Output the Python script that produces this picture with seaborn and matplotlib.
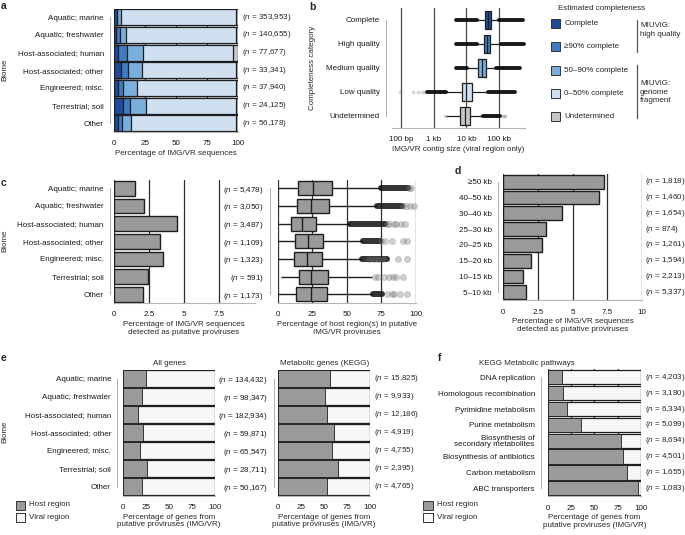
import numpy as np
import pandas as pd
import matplotlib.pyplot as plt
import seaborn as sns
from matplotlib.patches import Rectangle
from matplotlib.ticker import NullLocator

sns.set_theme(style="white")
plt.rcParams['font.family'] = ['Liberation Sans', 'DejaVu Sans']
plt.rcParams['mathtext.fontset'] = 'custom'
plt.rcParams['mathtext.it'] = 'Liberation Sans:italic'
plt.rcParams['mathtext.rm'] = 'Liberation Sans'

FS = 5.8
EDGE = "#1e1e1e"
GRID = "#2e2e2e"
SPINE = "#b5b5b5"
GRAY = "#9a9a9a"
WHITE = "#f7f7f7"
comp_colors = ["#1f4a9c", "#3b7cc3", "#7bafdb", "#cfe1f1", "#c6c6c6"]

# ---- data ----
biomes = ["Aquatic; marine", "Aquatic; freshwater", "Host-associated; human",
          "Host-associated; other", "Engineered; misc.", "Terrestrial; soil", "Other"]

# a: completeness per biome (% of sequences)
a_complete = [2.1, 1.6, 3.2, 5.9, 3.5, 7.5, 3.2]
a_hq90 = [0.5, 3.2, 7.6, 5.1, 4.0, 5.4, 3.5]
a_mq = [2.8, 4.6, 12.9, 11.8, 11.3, 12.9, 7.3]
a_undet = [1.6, 1.6, 4.3, 1.6, 1.6, 1.6, 1.6]
a_n = ["353,953", "140,655", "77,677", "33,341", "37,940", "24,125", "56,178"]

# b: contig size summary (bp)
b_cats = ["Complete", "High quality", "Medium quality", "Low quality", "Undetermined"]
b_whisk_lo = [20400, 20400, 10600, 2340, 2340]
b_q1 = [36300, 34700, 22400, 7240, 6300]
b_med = [45700, 42700, 29500, 9800, 9100]
b_q3 = [57500, 52500, 39800, 14450, 12900]
b_whisk_hi = [100000, 112000, 79400, 44700, 33100]
b_band_lo_start = [4800, 4800, 4800, 617, np.nan]
b_band_hi_end = [550000, 575000, 437000, 309000, 107000]
b_faint_low = [93, 240, 339, 427, 537]
b_faint_undet = [2250, 125000, 140000, 151000]
b_labels = ["Complete", "≥90% complete", "50–90% complete", "0–50% complete", "Undetermined"]

# c left: % proviruses per biome
c_pct = [1.53, 2.15, 4.47, 3.31, 3.48, 2.44, 2.08]
c_n = ["5,478", "3,050", "3,487", "1,109", "1,323", "591", "1,173"]

# c right: % host region in proviruses
cr_lo = [0.5, 0.5, 0.5, 0.5, 0.5, 2.2, 0.5]
cr_q1 = [15.0, 13.8, 9.7, 12.8, 12.0, 15.5, 13.3]
cr_med = [25.4, 24.2, 17.9, 22.2, 21.0, 24.2, 23.9]
cr_q3 = [39.6, 37.4, 27.5, 32.6, 32.0, 36.7, 36.0]
cr_hi = [74.9, 71.7, 52.4, 61.6, 61.0, 68.0, 69.3]
cr_band_end = [94.7, 90.0, 78.0, 74.0, 79.0, np.nan, 75.8]
cr_circles = [[95.5, 96.5],
              [91, 93, 96, 99],
              [79, 81, 84, 86, 89, 92],
              [75, 77.8, 82.5, 91, 93.5],
              [66, 70, 73, 76, 87, 93.5],
              [70.5, 73, 77, 81, 83.8, 85.7, 90.5],
              [79, 82.6, 84.3, 88.6, 93.5]]

# d: % proviruses by size
d_sizes = ["≥50 kb", "40–50 kb", "30–40 kb", "25–30 kb", "20–25 kb", "15–20 kb", "10–15 kb", "5–10 kb"]
d_pct = [7.28, 6.91, 4.26, 3.06, 2.82, 2.03, 1.45, 1.66]
d_n = ["1,818", "1,460", "1,654", "874", "1,261", "1,594", "2,213", "5,337"]

# e: host share of genes
e_host_all = [24.7, 20.7, 16.0, 21.0, 18.2, 25.4, 20.7]
e_n_all = ["134,432", "98,347", "182,934", "59,871", "65,547", "28,711", "50,167"]
e_host_kegg = [56.4, 51.3, 53.1, 61.1, 58.5, 65.1, 52.7]
e_n_kegg = ["15,825", "9,933", "12,186", "4,919", "4,755", "2,395", "4,765"]

# f: KEGG pathways
f_paths = ["DNA replication", "Homologous recombination", "Pyrimidine metabolism",
           "Purine metabolism", "Biosynthesis of\nsecondary metabolites",
           "Biosynthesis of antibiotics", "Carbon metabolism", "ABC transporters"]
f_host = [15.7, 16.8, 21.0, 35.4, 78.6, 80.4, 84.6, 96.4]
f_n = ["4,203", "3,180", "6,334", "5,099", "8,694", "4,501", "1,655", "1,083"]

W, H = 685, 535
fig = plt.figure(figsize=(W / 100, H / 100), dpi=100)


def add_ax(x0, x1, y0, y1):
    return fig.add_axes([x0 / W, 1 - y1 / H, (x1 - x0) / W, (y1 - y0) / H])


def style(ax, n, offset_px, xticks, xticklabels=None):
    for s in ["top", "right"]:
        ax.spines[s].set_visible(False)
    ax.spines["left"].set_position(("outward", offset_px * 0.72))
    ax.spines["left"].set_bounds(0, n - 1)
    for s in ["left", "bottom"]:
        ax.spines[s].set_color(SPINE)
        ax.spines[s].set_linewidth(0.8)
    ax.set_ylim(n - 0.5, -0.5)
    ax.set_xticks(xticks)
    if xticklabels is not None:
        ax.set_xticklabels(xticklabels)
    ax.xaxis.set_minor_locator(NullLocator())
    ax.tick_params(axis="x", length=0, pad=6.0, labelsize=FS, labelcolor="#1a1a1a")
    ax.tick_params(axis="y", length=3, width=0.6, color=SPINE, pad=1.5,
                   labelsize=FS, labelcolor="#1a1a1a")
    ax.grid(axis="x", color=GRID, lw=0.9, zorder=0)
    ax.grid(axis="y", visible=False)
    ax.set_axisbelow(True)
    ax.set_ylabel("")
    ax.set_xlabel("")


def nlab(n):
    return f"($n$ = {n})"


# ---- a ----
ax_a = add_ax(114, 238, 8.5, 132.1)
a_df = pd.DataFrame({"biome": biomes, "c1": a_complete, "c2": a_hq90, "c3": a_mq})
a_df["c4"] = 100 - a_df[["c1", "c2", "c3"]].sum(axis=1) - np.array(a_undet)
a_df["c5"] = a_undet
cum = a_df[["c1", "c2", "c3", "c4", "c5"]].cumsum(axis=1)
for col, color in reversed(list(zip(["c1", "c2", "c3", "c4", "c5"], comp_colors))):
    sns.barplot(x=cum[col], y=a_df["biome"], color=color, saturation=1, width=0.9,
                edgecolor=EDGE, linewidth=0.9, errorbar=None, orient="h", ax=ax_a)
style(ax_a, 7, 4, [0, 25, 50, 75, 100])
ax_a.set_xlim(0, 100)
ax_a.set_xlabel("Percentage of IMG/VR sequences", fontsize=FS, labelpad=2)
for i, n in enumerate(a_n):
    ax_a.text(103, i, nlab(n), fontsize=FS, va="center", ha="left", clip_on=False)

# ---- b ----
ax_b = add_ax(392, 525.3, 8, 128)
b_df = pd.DataFrame({
    "cat": np.repeat(b_cats, 5),
    "size": np.column_stack([b_whisk_lo, b_q1, b_med, b_q3, b_whisk_hi]).ravel(),
})
sns.boxplot(data=b_df, x="size", y="cat", hue="cat", order=b_cats, hue_order=b_cats,
            palette=comp_colors, saturation=1, whis=(0, 100), width=0.75, showcaps=False,
            showfliers=False, linecolor=EDGE, linewidth=0.9, log_scale=True, legend=False, ax=ax_b)
for i in range(len(b_cats)):
    if not np.isnan(b_band_lo_start[i]):
        ax_b.hlines(i, b_band_lo_start[i], b_whisk_lo[i], color="black", lw=2.8, alpha=0.9,
                    capstyle="round", zorder=3)
    ax_b.hlines(i, b_whisk_hi[i], b_band_hi_end[i], color="black", lw=2.8, alpha=0.9,
                capstyle="round", zorder=3, clip_on=False)
ax_b.scatter(b_faint_low, [3] * len(b_faint_low), s=7, color="#555", alpha=0.25, lw=0, zorder=3)
ax_b.scatter(b_faint_undet, [4] * len(b_faint_undet), s=7, color="#555", alpha=0.25, lw=0, zorder=3)
style(ax_b, 5, 6, [100, 1000, 10000, 100000], ["100 bp", "1 kb", "10 kb", "100 kb"])
ax_b.set_xlim(10 ** 1.725, 10 ** 5.8)
ax_b.grid(axis="x", color="#4a4a4a", lw=0.9)
ax_b.set_xlabel("IMG/VR contig size (viral region only)", fontsize=FS, labelpad=2)

# ---- c left ----
ax_c = add_ax(113.7, 254.5, 179.5, 303.1)
sns.barplot(x=c_pct, y=biomes, color=GRAY, saturation=1, width=0.82, edgecolor=EDGE,
            linewidth=1.0, errorbar=None, orient="h", ax=ax_c)
style(ax_c, 7, 4, [0, 2.5, 5, 7.5], ["0", "2.5", "5", "7.5"])
ax_c.set_xlim(0, 10)
ax_c.set_xlabel("Percentage of IMG/VR sequences\ndetected as putative proviruses",
                fontsize=FS, labelpad=2, linespacing=1.1)

# ---- c right ----
ax_cr = add_ax(277.7, 415.7, 179.5, 303.1)
cr_df = pd.DataFrame({
    "biome": np.repeat(biomes, 5),
    "pct": np.column_stack([cr_lo, cr_q1, cr_med, cr_q3, cr_hi]).ravel(),
})
sns.boxplot(data=cr_df, x="pct", y="biome", order=biomes, color=GRAY, saturation=1,
            whis=(0, 100), width=0.78, showcaps=False, showfliers=False, linecolor=EDGE,
            linewidth=1.0, ax=ax_cr)
for i in range(len(biomes)):
    if not np.isnan(cr_band_end[i]):
        ax_cr.hlines(i, cr_hi[i], cr_band_end[i], color="#111", lw=4.3, alpha=0.85,
                     capstyle="round", zorder=3)
    ax_cr.scatter(cr_circles[i], [i] * len(cr_circles[i]), s=19, facecolor="#777",
                  edgecolor="#555", lw=0.4, alpha=0.35, zorder=3, clip_on=False)
style(ax_cr, 7, 7.7, [0, 25, 50, 75, 100])
ax_cr.set_xlim(0, 100)
ax_cr.set_yticks(range(7))
ax_cr.set_yticklabels([nlab(n) for n in c_n])
ax_cr.set_xlabel("Percentage of host region(s) in putative\nIMG/VR proviruses",
                 fontsize=FS, labelpad=2, linespacing=1.1)

# ---- d ----
ax_d = add_ax(503.3, 641.7, 173.8, 300.2)
sns.barplot(x=d_pct, y=d_sizes, color=GRAY, saturation=1, width=0.88, edgecolor=EDGE,
            linewidth=1.0, errorbar=None, orient="h", ax=ax_d)
style(ax_d, 8, 5.3, [0, 2.5, 5, 7.5, 10], ["0", "2.5", "5", "7.5", "10"])
ax_d.set_xlim(0, 10)
for i, n in enumerate(d_n):
    ax_d.text(10.25, i, nlab(n), fontsize=FS, va="center", ha="left", clip_on=False)
ax_d.set_xlabel("Percentage of IMG/VR sequences\ndetected as putative proviruses",
                fontsize=FS, labelpad=2, linespacing=1.1)


# ---- e / f ----
def host_viral(ax, labels, host, width):
    sns.barplot(x=[100] * len(labels), y=labels, color=WHITE, saturation=1, width=width,
                edgecolor=EDGE, linewidth=0.9, errorbar=None, orient="h", ax=ax)
    sns.barplot(x=host, y=labels, color=GRAY, saturation=1, width=width,
                edgecolor=EDGE, linewidth=0.6, errorbar=None, orient="h", ax=ax)
    ax.set_xlim(0, 100)


xl = "Percentage of genes from\nputative proviruses (IMG/VR)"
ax_e1 = add_ax(123.3, 215, 369.5, 495.5)
host_viral(ax_e1, biomes, e_host_all, 0.9)
style(ax_e1, 7, 6, [0, 25, 50, 75, 100])
ax_e1.set_title("All genes", fontsize=FS, pad=3)
ax_e1.set_xlabel(xl, fontsize=FS, labelpad=2, linespacing=1.1)

ax_e2 = add_ax(278.3, 370, 369.5, 495.5)
host_viral(ax_e2, biomes, e_host_kegg, 0.9)
style(ax_e2, 7, 4.6, [0, 25, 50, 75, 100])
ax_e2.set_yticks(range(7))
ax_e2.set_yticklabels([nlab(n) for n in e_n_all])
ax_e2.set_title("Metabolic genes (KEGG)", fontsize=FS, pad=3)
ax_e2.set_xlabel(xl, fontsize=FS, labelpad=2, linespacing=1.1)
for i, n in enumerate(e_n_kegg):
    ax_e2.text(104.4, i, nlab(n), fontsize=FS, va="center", ha="left", clip_on=False)

ax_f = add_ax(547.7, 641, 369.4, 496.2)
host_viral(ax_f, f_paths, f_host, 0.9)
style(ax_f, 8, 6.7, [0, 25, 50, 75, 100])
for t in ax_f.get_yticklabels():
    t.set_linespacing(0.95)
ax_f.set_title("KEGG Metabolic pathways", fontsize=FS, pad=3, loc="left", x=-0.736)
ax_f.set_xlabel(xl, fontsize=FS, labelpad=2, linespacing=1.1)
for i, n in enumerate(f_n):
    ax_f.text(104.6, i, nlab(n), fontsize=FS, va="center", ha="left", clip_on=False)

# ---- overlay for legends, letters and side labels (pixel coordinates) ----
ov = fig.add_axes([0, 0, 1, 1])
ov.set_xlim(0, W)
ov.set_ylim(H, 0)
ov.axis("off")
ov.patch.set_alpha(0)

for letter, (x, y) in zip("abcdef", [(4, 6), (312, 7), (4, 183), (458, 171), (4, 358), (440, 358)]):
    ov.text(x, y, letter, fontsize=7.5, fontweight="bold", ha="center", va="center")

for y in [70, 241, 432]:
    ov.text(5, y, "Biome", fontsize=FS, rotation=90, ha="center", va="center")
ov.text(313, 68, "Completeness category", fontsize=FS, rotation=90, ha="center", va="center")

# b legend
ov.text(558, 9, "Estimated completeness", fontsize=FS, ha="left", va="center")
for i, (lab, col) in enumerate(zip(b_labels, comp_colors)):
    yc = 23.5 + 23.3 * i
    ov.add_patch(Rectangle((551, yc - 4.5), 9, 9, facecolor=col, edgecolor="#333", lw=0.7))
    ov.text(564.5, yc, lab, fontsize=FS, ha="left", va="center")
ov.plot([636.7, 636.7], [20, 51.7], color="#555", lw=0.9)
ov.plot([636.7, 636.7], [65, 118], color="#555", lw=0.9)
ov.text(640, 30, "MIUViG:\nhigh quality", fontsize=FS, ha="left", va="center", linespacing=1.3)
ov.text(640, 92, "MIUViG:\ngenome\nfragment", fontsize=FS, ha="left", va="center", linespacing=1.3)

# e / f legends
for x0 in [15.7, 423.3]:
    for j, (lab, col) in enumerate([("Host region", GRAY), ("Viral region", WHITE)]):
        yc = 505 + 12.3 * j
        ov.add_patch(Rectangle((x0, yc - 4.5), 9.5, 9, facecolor=col, edgecolor="#333", lw=0.7))
        ov.text(x0 + 13.5, yc, lab, fontsize=FS, ha="left", va="center")

fig.savefig("out.png", dpi=100)
